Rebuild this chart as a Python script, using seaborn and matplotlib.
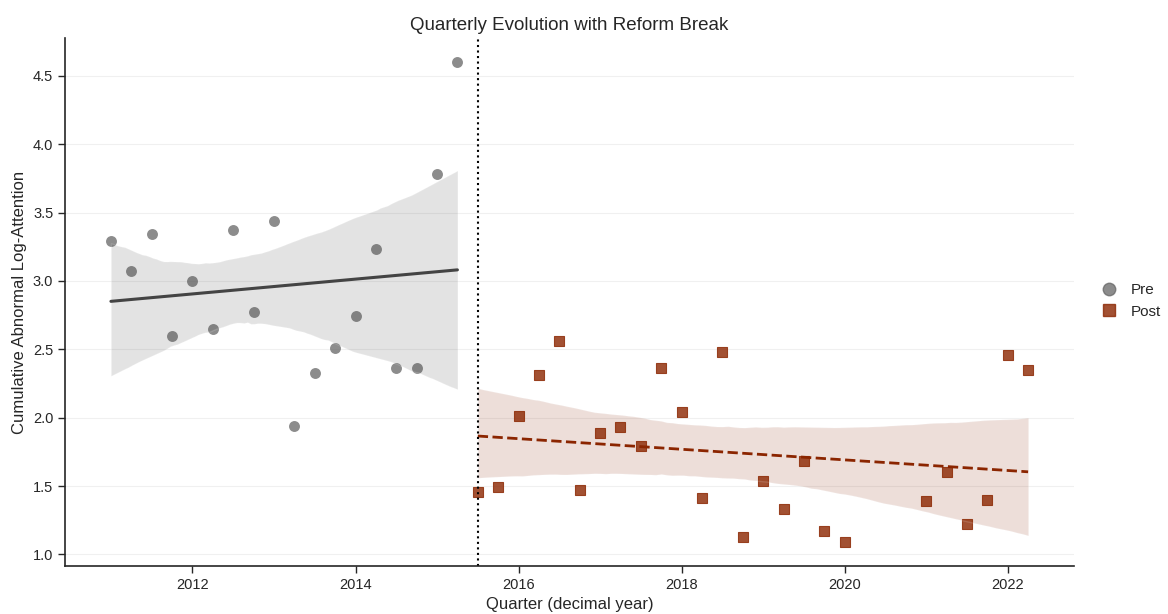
import matplotlib
matplotlib.use("Agg")
import matplotlib.pyplot as plt
from matplotlib.lines import Line2D
import seaborn as sns
import numpy as np
import pandas as pd

# Quarterly observations before the reform
pre_quarter = [2011.0, 2011.25, 2011.5, 2011.75, 2012.0, 2012.25, 2012.5, 2012.75,
               2013.0, 2013.25, 2013.5, 2013.75, 2014.0, 2014.25, 2014.5, 2014.75,
               2015.0, 2015.25]
pre_value = [3.29, 3.07, 3.34, 2.60, 3.00, 2.65, 3.37, 2.77,
             3.44, 1.94, 2.33, 2.51, 2.74, 3.23, 2.36, 2.36,
             3.78, 4.60]

# Quarterly observations after the reform
post_quarter = [2015.5, 2015.75, 2016.0, 2016.25, 2016.5, 2016.75, 2017.0, 2017.25,
                2017.5, 2017.75, 2018.0, 2018.25, 2018.5, 2018.75, 2019.0, 2019.25,
                2019.5, 2019.75, 2020.0, 2021.0, 2021.25, 2021.5, 2021.75, 2022.0,
                2022.25]
post_value = [1.46, 1.49, 2.01, 2.31, 2.56, 1.47, 1.89, 1.93,
              1.79, 2.36, 2.04, 1.41, 2.48, 1.13, 1.54, 1.33,
              1.68, 1.17, 1.09, 1.39, 1.60, 1.22, 1.40, 2.46,
              2.35]

reform_break = 2015.5

pre_df = pd.DataFrame({"quarter": pre_quarter, "value": pre_value})
post_df = pd.DataFrame({"quarter": post_quarter, "value": post_value})

sns.set_theme(style="ticks")
plt.rcParams["font.family"] = ["Liberation Sans", "DejaVu Sans"]

fig = plt.figure(figsize=(11.68, 6.14), dpi=100)
ax = fig.add_axes([0.0557, 0.078, 0.8638, 0.860])

pre_line = "#444444"
pre_pt = "#666666"
post_col = "#8B2500"

sns.regplot(data=pre_df, x="quarter", y="value", ax=ax, ci=95, n_boot=1000, seed=3,
            color=pre_line, marker="o",
            scatter_kws={"color": pre_pt, "s": 62, "alpha": 0.75, "linewidths": 0},
            line_kws={"color": pre_line, "lw": 2.2})
sns.regplot(data=post_df, x="quarter", y="value", ax=ax, ci=95, n_boot=1000, seed=3,
            color=post_col, marker="s",
            scatter_kws={"color": post_col, "s": 62, "alpha": 0.8, "linewidths": 0.8},
            line_kws={"color": post_col, "lw": 2.0, "ls": "--"})

ax.axvline(reform_break, color="black", ls=":", lw=1.5)

ax.grid(axis="y", color="#f0f0f0", lw=0.8)
ax.set_axisbelow(True)
sns.despine(ax=ax)
for sp in ("left", "bottom"):
    ax.spines[sp].set_linewidth(1.2)
ax.tick_params(axis="both", labelsize=10.5, width=1.0, length=5)

ax.set_title("Quarterly Evolution with Reform Break", fontsize=13.5)
ax.set_xlabel("Quarter (decimal year)", fontsize=12)
ax.set_ylabel("Cumulative Abnormal Log-Attention", fontsize=12)

handles = [
    Line2D([], [], marker="o", ls="", color=pre_pt, alpha=0.75, markersize=9),
    Line2D([], [], marker="s", ls="", color=post_col, alpha=0.8, markersize=9),
]
fig.legend(handles, ["Pre", "Post"], loc="center left", bbox_to_anchor=(0.925, 0.51),
           frameon=False, fontsize=11, handletextpad=0.4)

fig.savefig("out.png", dpi=100)
